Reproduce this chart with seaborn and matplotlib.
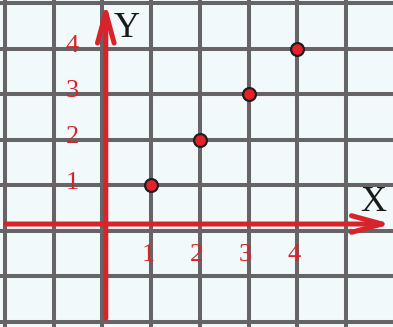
import matplotlib
matplotlib.use('Agg')
import matplotlib.pyplot as plt
import seaborn as sns
import pandas as pd

# points on the line y = x
xs = [1, 2, 3, 4]
ys = [1, 2, 3, 4]

x_tick_labels = ['1', '2', '3', '4']
y_tick_labels = ['1', '2', '3', '4']

grid_x = list(range(-2, 6))
grid_y = list(range(-2, 6))

RED = '#d9232b'
GRID = '#676465'
BG = '#f1f9fb'

sns.set_style('white')
plt.rcParams['font.family'] = ['Liberation Serif', 'DejaVu Serif']

fig = plt.figure(figsize=(3.93, 3.27), dpi=100)
ax = fig.add_axes([0, 0, 1, 1])
ax.set_facecolor(BG)
fig.patch.set_facecolor('white')

ax.set_xlim(-2.10, 5.96)
ax.set_ylim(-2.11, 5.066)

# grid
ax.set_xticks(grid_x)
ax.set_yticks(grid_y)
ax.grid(True, color=GRID, linewidth=2.9)
ax.tick_params(length=0, labelbottom=False, labelleft=False)
for s in ax.spines.values():
    s.set_visible(False)

# axes arrows
arrow = dict(arrowstyle='->,head_length=1.1,head_width=0.3',
             color=RED, lw=3.6, mutation_scale=20, shrinkA=0, shrinkB=0)
ax.annotate('', xy=(5.93, 0.15), xytext=(-1.98, 0.15), arrowprops=arrow)
ax.annotate('', xy=(0.07, 5.0), xytext=(0.07, -1.92), arrowprops=arrow)

df = pd.DataFrame({'x': xs, 'y': ys})
sns.scatterplot(data=df, x='x', y='y', ax=ax, s=85, color='#e8202a',
                edgecolor='#1e1e1e', linewidth=1.6, zorder=5)
ax.set_xlabel('')
ax.set_ylabel('')

for v, lab in zip(xs, x_tick_labels):
    ax.text(v - 0.06, -0.53, lab, color=RED, fontsize=19,
            ha='center', va='center')
for v, lab in zip(ys, y_tick_labels):
    ax.text(-0.62, v + 0.06, lab, color=RED, fontsize=19,
            ha='center', va='center')

ax.text(0.50, 4.45, 'Y', color='#1a1a1a', fontsize=26, ha='center', va='center')
ax.text(5.56, 0.63, 'X', color='#1a1a1a', fontsize=26, ha='center', va='center')

fig.savefig('out.png', dpi=100)
